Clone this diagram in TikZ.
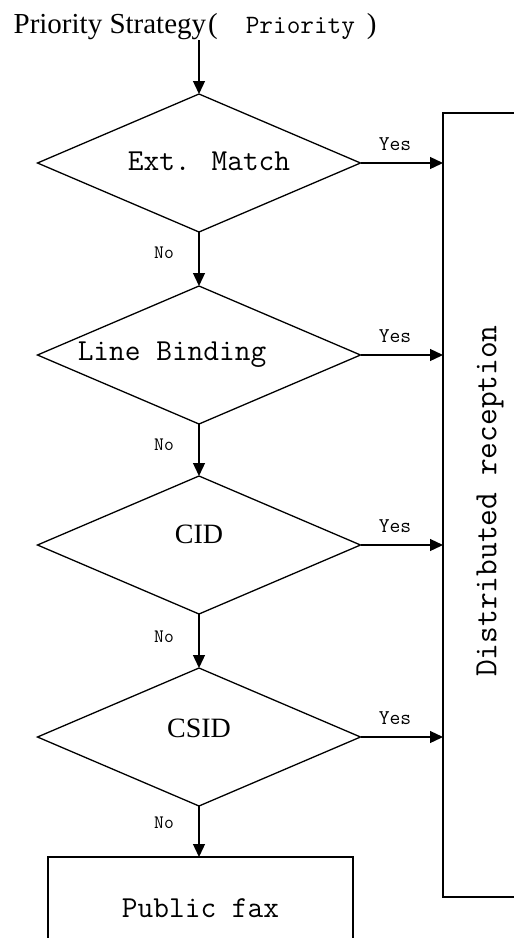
\documentclass[tikz,border=0pt]{standalone}
\usepackage{fontspec}
\setmainfont{Liberation Serif}
\usetikzlibrary{shapes.geometric,arrows.meta}
\begin{document}
\begin{tikzpicture}[x=1pt,y=-1pt,line width=1.3pt,
  decision/.style={diamond,draw,minimum width=323pt,minimum height=138pt,inner sep=0pt,outer sep=0pt},
  arr/.style={-{Triangle[width=12pt,length=13pt]}},
  monotext/.style={font=\ttfamily\fontsize{30.5}{32}\selectfont,inner sep=0pt},
  serifbig/.style={font=\fontsize{28}{30}\selectfont,inner sep=0pt},
  yeslabel/.style={font=\ttfamily\fontsize{21}{22}\selectfont,inner sep=0pt},
  nolabel/.style={font=\ttfamily\fontsize{19}{20}\selectfont,inner sep=0pt}]
\useasboundingbox (0,0) rectangle (514,938);
\clip (0,0) rectangle (514,938);
\fill[white] (0,0) rectangle (514,938);

% title
\node[anchor=base west,inner sep=0pt,font=\fontsize{29}{31}\selectfont] (title) at (13,33)
  {Priority Strategy\hspace{2pt}(\hspace{28pt}{\ttfamily\fontsize{26.5}{28}\selectfont Priority}\hspace{12pt})};

% decisions
\node[decision] (d1) at (199,163) {};
\node[decision] (d2) at (199,355) {};
\node[decision] (d3) at (199,545) {};
\node[decision] (d4) at (199,737) {};

\node[monotext] (t1) at (209,161) {Ext. Match};
\node[monotext] (t2) at (172,355) {Line Binding};
\node[serifbig] (t3) at (199,534) {CID};
\node[serifbig] (t4) at (199,728) {CSID};

% distributed reception box
\node[draw,minimum width=120pt,minimum height=784pt,inner sep=0pt,outer sep=0pt] (dr) at (503,505) {};
\node[rotate=90,font=\ttfamily\fontsize{32.5}{34}\selectfont,inner sep=0pt] (drt) at (490,501) {Distributed reception};

% public fax box
\node[draw,minimum width=305pt,minimum height=102pt,inner sep=0pt,outer sep=0pt,
  font=\ttfamily\fontsize{30.5}{32}\selectfont] (pf) at (200.5,908) {Public fax};

% connectors
\coordinate (ts) at (199,40);
\draw[arr] (ts) -- (d1.north);
\draw[arr] (d1.south) -- (d2.north);
\draw[arr] (d2.south) -- (d3.north);
\draw[arr] (d3.south) -- (d4.north);
\draw[arr] (d4.south) -- (d4.south |- pf.north);

\draw[arr] (d1.east) -- (d1.east -| dr.west);
\draw[arr] (d2.east) -- (d2.east -| dr.west);
\draw[arr] (d3.east) -- (d3.east -| dr.west);
\draw[arr] (d4.east) -- (d4.east -| dr.west);

% labels
\node[yeslabel] (y1) at (395,144) {Yes};
\node[yeslabel] (y2) at (395,336) {Yes};
\node[yeslabel] (y3) at (395,526) {Yes};
\node[yeslabel] (y4) at (395,718) {Yes};

\node[nolabel] (n1) at (164,253) {No};
\node[nolabel] (n2) at (164,445) {No};
\node[nolabel] (n3) at (164,637) {No};
\node[nolabel] (n4) at (164,823) {No};
\end{tikzpicture}
\end{document}
